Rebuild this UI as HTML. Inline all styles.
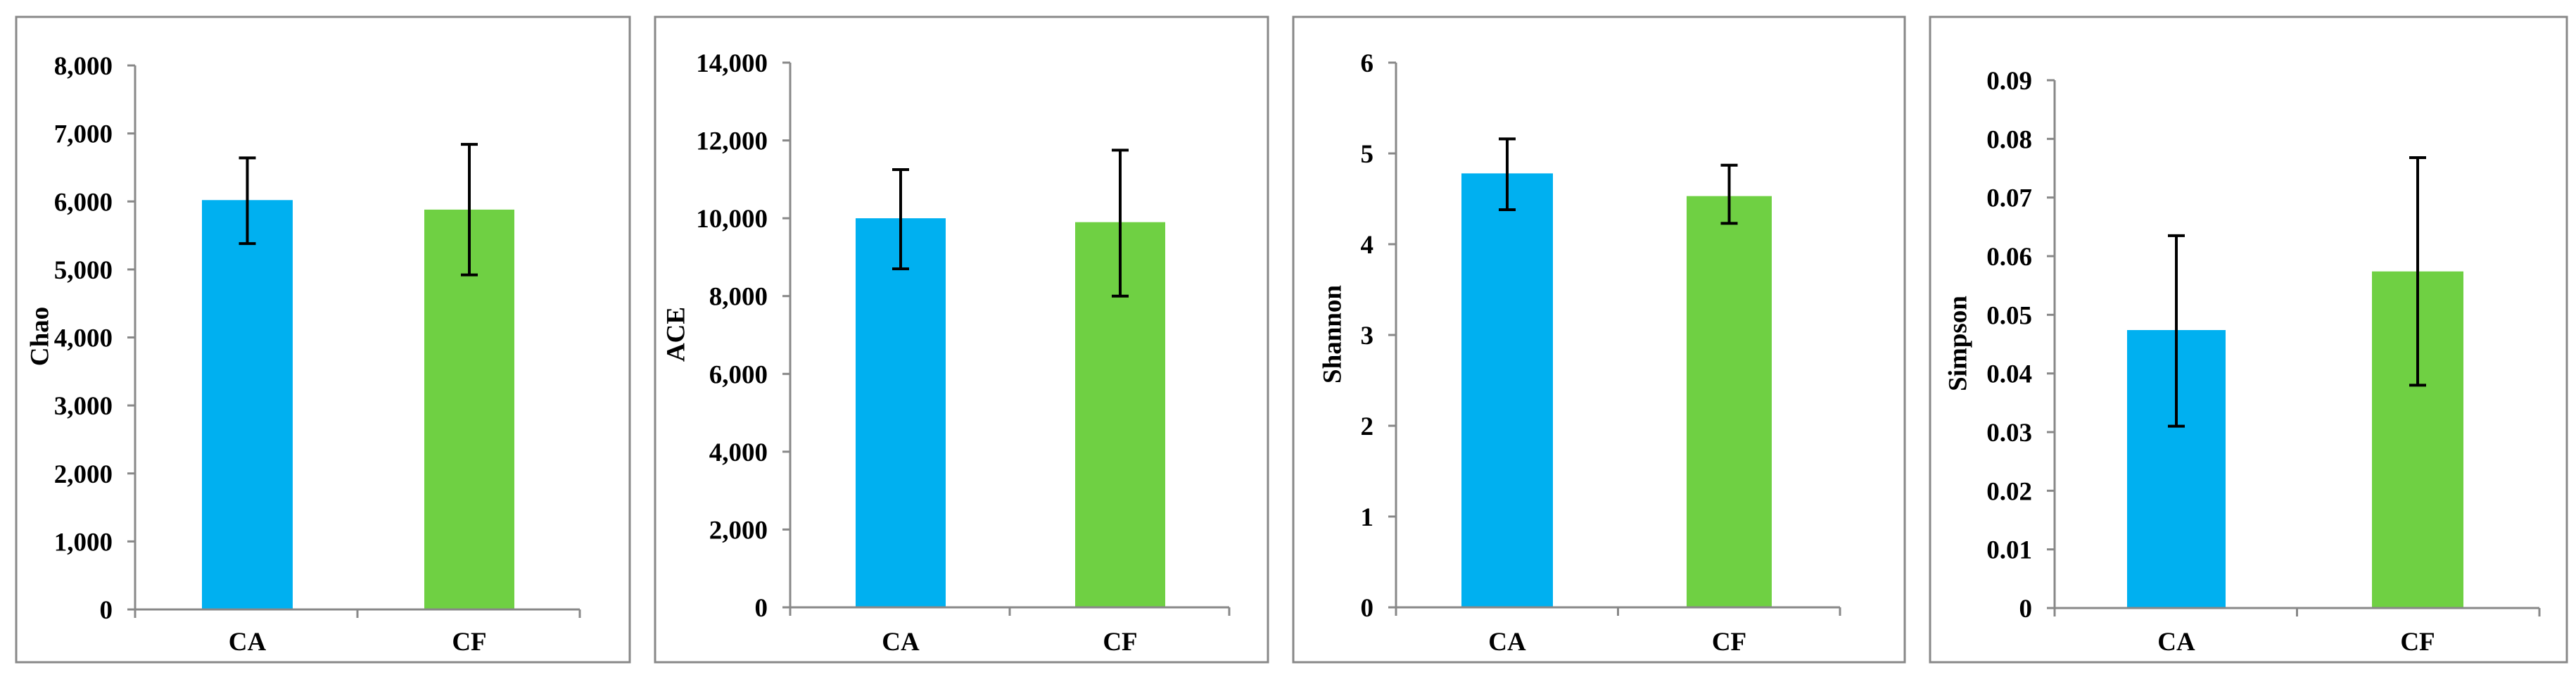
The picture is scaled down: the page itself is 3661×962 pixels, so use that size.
<!DOCTYPE html>
<html><head><meta charset="utf-8"><style>
html,body{margin:0;padding:0;background:#fff;}
svg{display:block;}
text{font-family:"Liberation Serif",serif;font-weight:bold;fill:#000;}
</style></head><body>
<svg id="chart" width="3661" height="962" viewBox="0 0 3661 962" xmlns="http://www.w3.org/2000/svg"></svg>
<script>
const categories = ["CA", "CF"];
const chaoValues = [6020, 5880];
const chaoErrHigh = [6640, 6840];
const chaoErrLow = [5380, 4920];
const chaoTicks = ["0","1,000","2,000","3,000","4,000","5,000","6,000","7,000","8,000"];
const aceValues = [10000, 9900];
const aceErrHigh = [11250, 11750];
const aceErrLow = [8700, 8000];
const aceTicks = ["0","2,000","4,000","6,000","8,000","10,000","12,000","14,000"];
const shannonValues = [4.78, 4.53];
const shannonErrHigh = [5.16, 4.87];
const shannonErrLow = [4.38, 4.23];
const shannonTicks = ["0","1","2","3","4","5","6"];
const simpsonValues = [0.0474, 0.0574];
const simpsonErrHigh = [0.0635, 0.0768];
const simpsonErrLow = [0.031, 0.038];
const simpsonTicks = ["0","0.01","0.02","0.03","0.04","0.05","0.06","0.07","0.08","0.09"];
const barColors = ["#00b0f0", "#6fd043"];

const svg = document.getElementById('chart');
const NS = 'http://www.w3.org/2000/svg';
function mk(tag, attrs, parent){
  const e = document.createElementNS(NS, tag);
  for (const k in attrs) e.setAttribute(k, attrs[k]);
  parent.appendChild(e);
  return e;
}

const panels = [
  {name:'chao', title:'Chao', values:chaoValues, hi:chaoErrHigh, lo:chaoErrLow, ticks:chaoTicks, max:8000,
   frame:[23,24,895,941], ax:192, top:93, zero:866, xend:824, bars:[[287,416],[603,731]], lx:57, ly:478},
  {name:'ace', title:'ACE', values:aceValues, hi:aceErrHigh, lo:aceErrLow, ticks:aceTicks, max:14000,
   frame:[931,24,1802,941], ax:1123, top:89, zero:863, xend:1747, bars:[[1216,1344],[1528,1656]], lx:961, ly:475},
  {name:'shannon', title:'Shannon', values:shannonValues, hi:shannonErrHigh, lo:shannonErrLow, ticks:shannonTicks, max:6,
   frame:[1838,24,2707,941], ax:1984, top:89, zero:863, xend:2615, bars:[[2077,2207],[2397,2518]], lx:1894, ly:475},
  {name:'simpson', title:'Simpson', values:simpsonValues, hi:simpsonErrHigh, lo:simpsonErrLow, ticks:simpsonTicks, max:0.09,
   frame:[2743,24,3648,941], ax:2920, top:114, zero:864, xend:3609, bars:[[3023,3163],[3371,3501]], lx:2783, ly:488}
];

panels.forEach(p => {
  const g = mk('g', {}, svg);
  
  
  const fr = mk('rect', {x:p.frame[0], y:p.frame[1], width:p.frame[2]-p.frame[0], height:p.frame[3]-p.frame[1], fill:'#fff', stroke:'#888', 'stroke-width':3}, g);
  
  
  const y = v => p.zero - (v / p.max) * (p.zero - p.top);
  p.values.forEach((v, i) => {
    const b = mk('rect', {x:p.bars[i][0], y:y(v), width:p.bars[i][1]-p.bars[i][0], height:p.zero - y(v), fill:barColors[i]}, g);
    
    
  });
  const ya = mk('line', {x1:p.ax, y1:p.top, x2:p.ax, y2:p.zero+12, stroke:'#888', 'stroke-width':3}, g);
  
  
  const n = p.ticks.length - 1;
  p.ticks.forEach((t, i) => {
    const v = p.max * i / n;
    const yy = y(v);
    mk('line', {x1:p.ax-11, y1:yy, x2:p.ax, y2:yy, stroke:'#888', 'stroke-width':3}, g);
    const tx = mk('text', {x:p.ax-32, y:yy+13, 'font-size':37, 'text-anchor':'end'}, g);
    tx.textContent = t;
    
    
  });
  const xa = mk('line', {x1:p.ax-11, y1:p.zero, x2:p.xend, y2:p.zero, stroke:'#888', 'stroke-width':3}, g);
  
  
  const mid = (p.ax + p.xend) / 2;
  [p.ax, mid, p.xend].forEach(xx => mk('line', {x1:xx, y1:p.zero, x2:xx, y2:p.zero+12, stroke:'#888', 'stroke-width':3}, g));
  categories.forEach((c, i) => {
    const cx = (p.bars[i][0] + p.bars[i][1]) / 2;
    const t = mk('text', {x:cx, y:924, 'font-size':37, 'text-anchor':'middle'}, g);
    t.textContent = c;
    
    
    const eg = mk('g', {stroke:'#000', 'stroke-width':4}, g);
    
    
    mk('line', {x1:cx, y1:y(p.hi[i]), x2:cx, y2:y(p.lo[i])}, eg);
    mk('line', {x1:cx-12, y1:y(p.hi[i]), x2:cx+12, y2:y(p.hi[i])}, eg);
    mk('line', {x1:cx-12, y1:y(p.lo[i]), x2:cx+12, y2:y(p.lo[i])}, eg);
  });
  const yt = mk('text', {x:p.lx, y:p.ly, 'font-size':37, 'text-anchor':'middle', transform:'rotate(-90 '+p.lx+' '+p.ly+')', 'dominant-baseline':'central'}, g);
  yt.textContent = p.title;
  
  
});
</script>
</body></html>
